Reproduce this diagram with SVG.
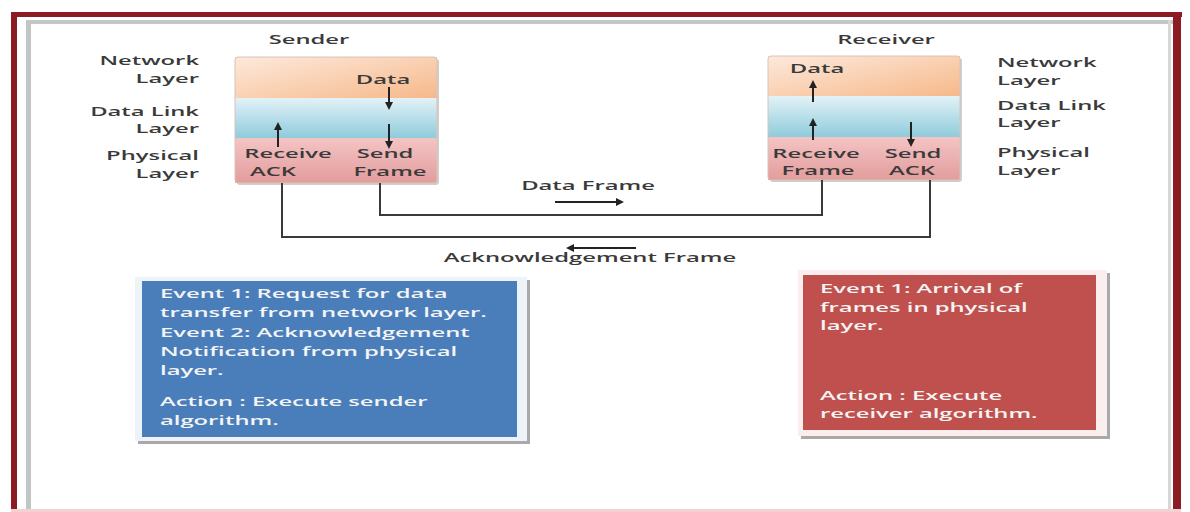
<svg xmlns="http://www.w3.org/2000/svg" width="1190" height="512" viewBox="0 0 1190 512">
<defs>
<style>
.t{font-family:"Open Sans","Liberation Sans",sans-serif;font-size:13px;font-weight:600;fill:#3a3a3a}
.w{fill:#f4f4f4}
.ln{fill:none;stroke:#3a3a3a;stroke-width:2}
.ar{fill:none;stroke:#222;stroke-width:2;marker-end:url(#ah)}
</style>
<marker id="ah" viewBox="0 0 8 8" refX="6" refY="4" markerWidth="8" markerHeight="8" markerUnits="userSpaceOnUse" orient="auto">
<path d="M0,0 L8,4 L0,8 z" fill="#222"/>
</marker>
<linearGradient id="gOr" x1="0" y1="0" x2="1" y2="1">
<stop offset="0" stop-color="#fde9dc"/><stop offset="1" stop-color="#f6b98a"/>
</linearGradient>
<linearGradient id="gBl" x1="0" y1="0" x2="0" y2="1">
<stop offset="0" stop-color="#e3f2f7"/><stop offset="1" stop-color="#8fcbdc"/>
</linearGradient>
<linearGradient id="gPk" x1="0" y1="0" x2="0" y2="1">
<stop offset="0" stop-color="#f4c4c4"/><stop offset="1" stop-color="#e39c9c"/>
</linearGradient>
</defs>
<rect width="1190" height="512" fill="#ffffff"/>

<g id="frame">
<rect x="26" y="20" width="5" height="492" fill="#c2c5c5"/>
<rect x="26" y="20" width="1147" height="4" fill="#c4c6c6"/>
<rect x="1168" y="20" width="3" height="492" fill="#d6d8d8"/>
<rect x="11" y="12" width="6" height="500" fill="#8c1c24"/>
<rect x="11" y="12" width="1171" height="5" fill="#8c1c24"/>
<rect x="1173" y="12" width="8" height="500" fill="#8c1c24"/>
<rect x="11" y="509" width="1170" height="3" fill="#f3d2d2"/>
</g>

<g id="left-labels">
<text class="t" text-anchor="end" transform="translate(199,65) scale(1.83,1)">Network</text>
<text class="t" text-anchor="end" transform="translate(199,83) scale(1.83,1)">Layer</text>
<text class="t" text-anchor="end" transform="translate(199,116) scale(1.83,1)">Data Link</text>
<text class="t" text-anchor="end" transform="translate(199,133) scale(1.83,1)">Layer</text>
<text class="t" text-anchor="end" transform="translate(199,160) scale(1.83,1)">Physical</text>
<text class="t" text-anchor="end" transform="translate(199,178) scale(1.83,1)">Layer</text>
</g>

<g id="right-labels">
<text class="t" transform="translate(997,67) scale(1.83,1)">Network</text>
<text class="t" transform="translate(997,85) scale(1.83,1)">Layer</text>
<text class="t" transform="translate(997,110) scale(1.83,1)">Data Link</text>
<text class="t" transform="translate(997,127) scale(1.83,1)">Layer</text>
<text class="t" transform="translate(997,157) scale(1.83,1)">Physical</text>
<text class="t" transform="translate(997,175) scale(1.83,1)">Layer</text>
</g>

<g id="sender">
<text class="t" text-anchor="middle" transform="translate(309,44) scale(1.83,1)">Sender</text>
<rect x="237" y="59" width="202" height="126" rx="3" fill="#cfcfcf"/>
<rect x="235" y="57" width="202" height="41" fill="url(#gOr)"/>
<rect x="235" y="98" width="202" height="40" fill="url(#gBl)"/>
<rect x="235" y="138" width="202" height="45" fill="url(#gPk)"/>
<rect x="235" y="57" width="202" height="126" rx="3" fill="none" stroke="#d9c2b8" stroke-width="1"/>
<text class="t" text-anchor="middle" transform="translate(383,84) scale(1.83,1)">Data</text>
<line class="ar" x1="389" y1="87" x2="389" y2="108"/>
<line class="ar" x1="389" y1="124" x2="389" y2="147"/>
<line class="ar" x1="278" y1="147" x2="278" y2="124"/>
<text class="t" text-anchor="middle" transform="translate(288,158) scale(1.83,1)">Receive</text>
<text class="t" text-anchor="middle" transform="translate(273,176) scale(1.83,1)">ACK</text>
<text class="t" text-anchor="middle" transform="translate(385,158) scale(1.83,1)">Send</text>
<text class="t" text-anchor="middle" transform="translate(390,176) scale(1.83,1)">Frame</text>
</g>

<g id="receiver">
<text class="t" text-anchor="middle" transform="translate(886,44) scale(1.83,1)">Receiver</text>
<rect x="770" y="58" width="192" height="124" rx="3" fill="#cfcfcf"/>
<rect x="768" y="56" width="192" height="40" fill="url(#gOr)"/>
<rect x="768" y="96" width="192" height="41" fill="url(#gBl)"/>
<rect x="768" y="137" width="192" height="43" fill="url(#gPk)"/>
<rect x="768" y="56" width="192" height="124" rx="3" fill="none" stroke="#d9c2b8" stroke-width="1"/>
<text class="t" text-anchor="middle" transform="translate(817,73) scale(1.83,1)">Data</text>
<line class="ar" x1="813" y1="102" x2="813" y2="82"/>
<line class="ar" x1="813" y1="140" x2="813" y2="120"/>
<line class="ar" x1="911" y1="122" x2="911" y2="145"/>
<text class="t" text-anchor="middle" transform="translate(816,158) scale(1.83,1)">Receive</text>
<text class="t" text-anchor="middle" transform="translate(818,175) scale(1.83,1)">Frame</text>
<text class="t" text-anchor="middle" transform="translate(913,158) scale(1.83,1)">Send</text>
<text class="t" text-anchor="middle" transform="translate(912,175) scale(1.83,1)">ACK</text>
</g>

<g id="connectors">
<polyline class="ln" points="380,183 380,215 822,215 822,180"/>
<polyline class="ln" points="282,183 282,237 930,237 930,180"/>
<line class="ar" x1="555" y1="202" x2="622" y2="202"/>
<line class="ar" x1="636" y1="248" x2="568" y2="248"/>
<text class="t" text-anchor="middle" transform="translate(588,190) scale(1.83,1)">Data Frame</text>
<text class="t" text-anchor="middle" transform="translate(590,262) scale(1.83,1)">Acknowledgement Frame</text>
</g>

<g id="sender-events">
<rect x="138" y="280" width="392" height="164" fill="#a9a9a9"/>
<rect x="135" y="277" width="392" height="164" fill="#eef3f9"/>
<rect x="142" y="281" width="375" height="156" fill="#4a7ebb"/>
<text class="t w" transform="translate(160,298) scale(1.83,1)"><tspan x="0" y="0">Event 1: Request for data</tspan><tspan x="0" y="19.5">transfer from network layer.</tspan><tspan x="0" y="39">Event 2: Acknowledgement</tspan><tspan x="0" y="58">Notification from physical</tspan><tspan x="0" y="77">layer.</tspan><tspan x="0" y="108">Action : Execute sender</tspan><tspan x="0" y="127">algorithm.</tspan></text>
</g>

<g id="receiver-events">
<rect x="801" y="273" width="309" height="166" fill="#a9a9a9"/>
<rect x="798" y="270" width="309" height="166" fill="#fbeeee"/>
<rect x="803" y="275" width="293" height="155" fill="#c0504d"/>
<text class="t w" transform="translate(820,293) scale(1.83,1)"><tspan x="0" y="0">Event 1: Arrival of</tspan><tspan x="0" y="19">frames in physical</tspan><tspan x="0" y="37">layer.</tspan><tspan x="0" y="107">Action : Execute</tspan><tspan x="0" y="125">receiver algorithm.</tspan></text>
</g>
</svg>
